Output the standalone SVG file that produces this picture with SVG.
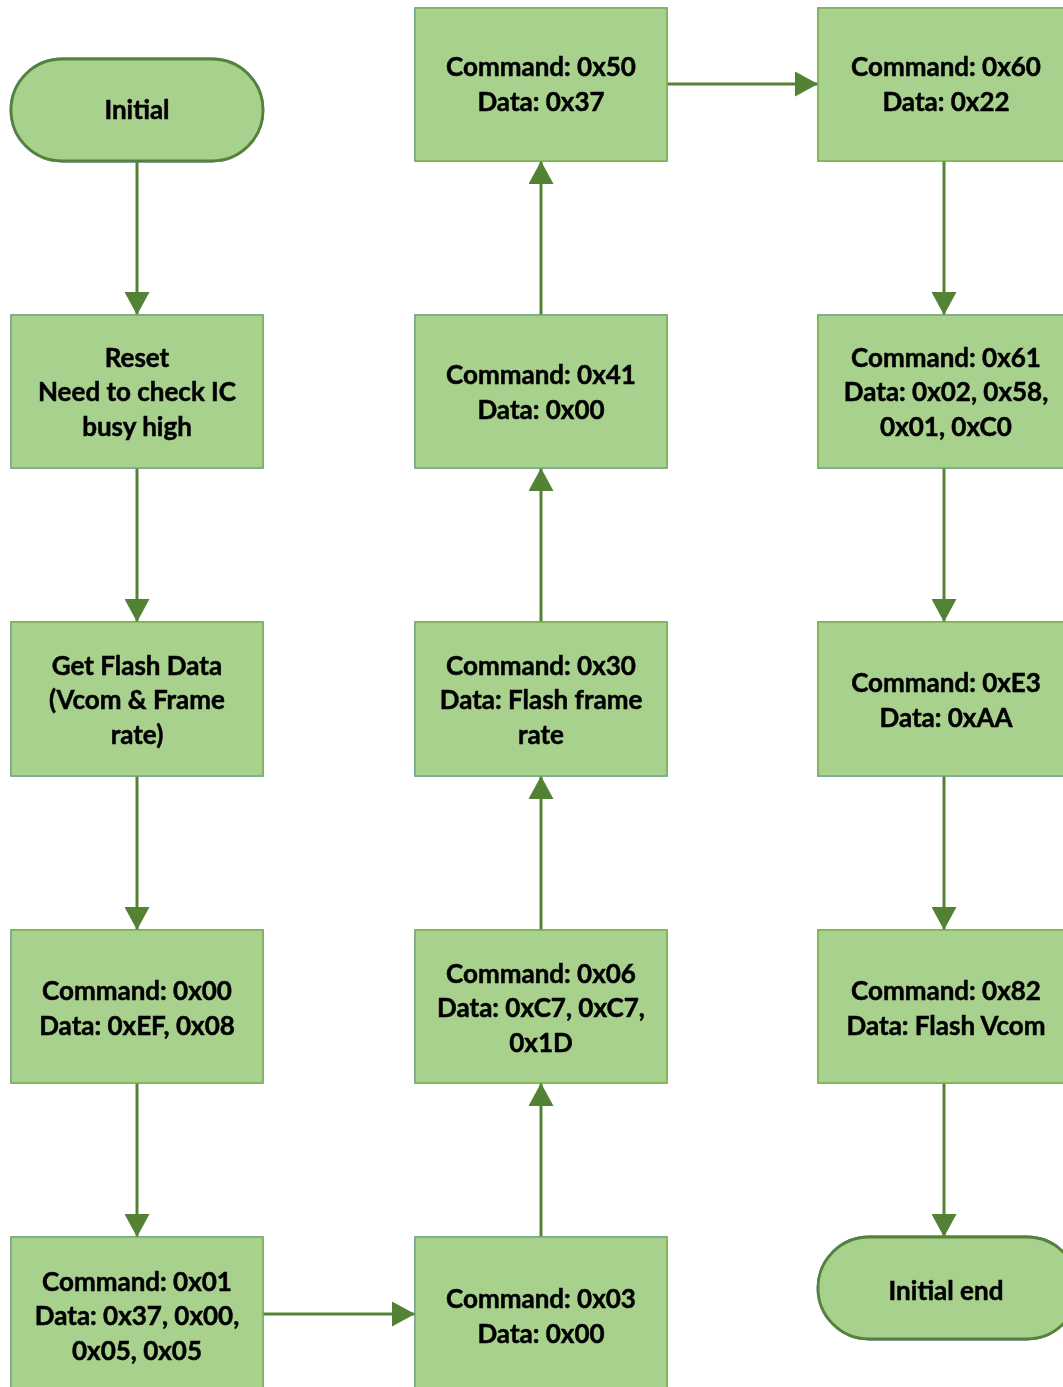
<svg xmlns="http://www.w3.org/2000/svg" width="1063" height="1387" viewBox="0 0 1063 1387">
<defs>
<filter id="sh" x="-10%" y="-10%" width="120%" height="130%">
<feGaussianBlur in="SourceAlpha" stdDeviation="4"/>
<feOffset dx="0" dy="4"/>
<feComponentTransfer><feFuncA type="linear" slope="0.18"/></feComponentTransfer>
<feFlood flood-color="#5b7fc7"/>
<feComposite operator="in" in2="SourceGraphic"/>
<feMerge><feMergeNode/><feMergeNode in="SourceGraphic"/></feMerge>
</filter>
<marker id="ah" viewBox="0 0 23 25" refX="23" refY="12.5" markerWidth="23" markerHeight="25" markerUnits="userSpaceOnUse" orient="auto">
<path d="M0,0 L23,12.5 L0,25 Z" fill="#548235"/>
</marker>
</defs>
<style>
.box{fill:#A9D18E;stroke:#70AD47;stroke-width:1.3}
.term{fill:#A9D18E;stroke:#548235;stroke-width:2.8}
.t{font-family:Lato,"Liberation Sans",sans-serif;font-weight:bold;font-size:26px;fill:#000;stroke:#000;stroke-width:0.5;text-anchor:middle}
.c{stroke:#548235;stroke-width:3;fill:none;marker-end:url(#ah)}
</style>
<rect width="1063" height="1387" fill="#fff"/>
<g id="connectors">
<line class="c" x1="137" y1="161" x2="137" y2="315"/>
<line class="c" x1="137" y1="468" x2="137" y2="622"/>
<line class="c" x1="137" y1="776" x2="137" y2="930"/>
<line class="c" x1="137" y1="1083" x2="137" y2="1237"/>
<line class="c" x1="263" y1="1314" x2="415" y2="1314"/>
<line class="c" x1="541" y1="1237" x2="541" y2="1083"/>
<line class="c" x1="541" y1="930" x2="541" y2="776"/>
<line class="c" x1="541" y1="622" x2="541" y2="468"/>
<line class="c" x1="541" y1="315" x2="541" y2="161"/>
<line class="c" x1="667" y1="84" x2="818" y2="84"/>
<line class="c" x1="944" y1="161" x2="944" y2="315"/>
<line class="c" x1="944" y1="468" x2="944" y2="622"/>
<line class="c" x1="944" y1="776" x2="944" y2="930"/>
<line class="c" x1="944" y1="1083" x2="944" y2="1237"/>
</g>
<g id="n-initial" filter="url(#sh)">
<rect class="term" x="11" y="59" width="252" height="102" rx="51" ry="51"/>
<text class="t" x="137" y="119">Initial</text>
</g>
<g id="n-reset" filter="url(#sh)">
<rect class="box" x="11" y="315" width="252" height="153"/>
<text class="t" x="137" y="367">Reset</text>
<text class="t" x="137" y="401">Need to check IC</text>
<text class="t" x="137" y="436">busy high</text>
</g>
<g id="n-flash" filter="url(#sh)">
<rect class="box" x="11" y="622" width="252" height="154"/>
<text class="t" x="137" y="675">Get Flash Data</text>
<text class="t" x="137" y="709">(Vcom &amp; Frame</text>
<text class="t" x="137" y="744">rate)</text>
</g>
<g id="n-cmd00" filter="url(#sh)">
<rect class="box" x="11" y="930" width="252" height="153"/>
<text class="t" x="137" y="1000">Command: 0x00</text>
<text class="t" x="137" y="1035">Data: 0xEF, 0x08</text>
</g>
<g id="n-cmd01" filter="url(#sh)">
<rect class="box" x="11" y="1237" width="252" height="153"/>
<text class="t" x="137" y="1291">Command: 0x01</text>
<text class="t" x="137" y="1325">Data: 0x37, 0x00,</text>
<text class="t" x="137" y="1360">0x05, 0x05</text>
</g>
<g id="n-cmd03" filter="url(#sh)">
<rect class="box" x="415" y="1237" width="252" height="153"/>
<text class="t" x="541" y="1308">Command: 0x03</text>
<text class="t" x="541" y="1343">Data: 0x00</text>
</g>
<g id="n-cmd06" filter="url(#sh)">
<rect class="box" x="415" y="930" width="252" height="153"/>
<text class="t" x="541" y="983">Command: 0x06</text>
<text class="t" x="541" y="1017">Data: 0xC7, 0xC7,</text>
<text class="t" x="541" y="1052">0x1D</text>
</g>
<g id="n-cmd30" filter="url(#sh)">
<rect class="box" x="415" y="622" width="252" height="154"/>
<text class="t" x="541" y="675">Command: 0x30</text>
<text class="t" x="541" y="709">Data: Flash frame</text>
<text class="t" x="541" y="744">rate</text>
</g>
<g id="n-cmd41" filter="url(#sh)">
<rect class="box" x="415" y="315" width="252" height="153"/>
<text class="t" x="541" y="384">Command: 0x41</text>
<text class="t" x="541" y="419">Data: 0x00</text>
</g>
<g id="n-cmd50" filter="url(#sh)">
<rect class="box" x="415" y="8" width="252" height="153"/>
<text class="t" x="541" y="76">Command: 0x50</text>
<text class="t" x="541" y="111">Data: 0x37</text>
</g>
<g id="n-cmd60" filter="url(#sh)">
<rect class="box" x="818" y="8" width="252" height="153"/>
<text class="t" x="946" y="76">Command: 0x60</text>
<text class="t" x="946" y="111">Data: 0x22</text>
</g>
<g id="n-cmd61" filter="url(#sh)">
<rect class="box" x="818" y="315" width="252" height="153"/>
<text class="t" x="946" y="367">Command: 0x61</text>
<text class="t" x="946" y="401">Data: 0x02, 0x58,</text>
<text class="t" x="946" y="436">0x01, 0xC0</text>
</g>
<g id="n-cmdE3" filter="url(#sh)">
<rect class="box" x="818" y="622" width="252" height="154"/>
<text class="t" x="946" y="692">Command: 0xE3</text>
<text class="t" x="946" y="727">Data: 0xAA</text>
</g>
<g id="n-cmd82" filter="url(#sh)">
<rect class="box" x="818" y="930" width="252" height="153"/>
<text class="t" x="946" y="1000">Command: 0x82</text>
<text class="t" x="946" y="1035">Data: Flash Vcom</text>
</g>
<g id="n-end" filter="url(#sh)">
<rect class="term" x="818" y="1237" width="260" height="102" rx="51" ry="51"/>
<text class="t" x="946" y="1300">Initial end</text>
</g>
</svg>
